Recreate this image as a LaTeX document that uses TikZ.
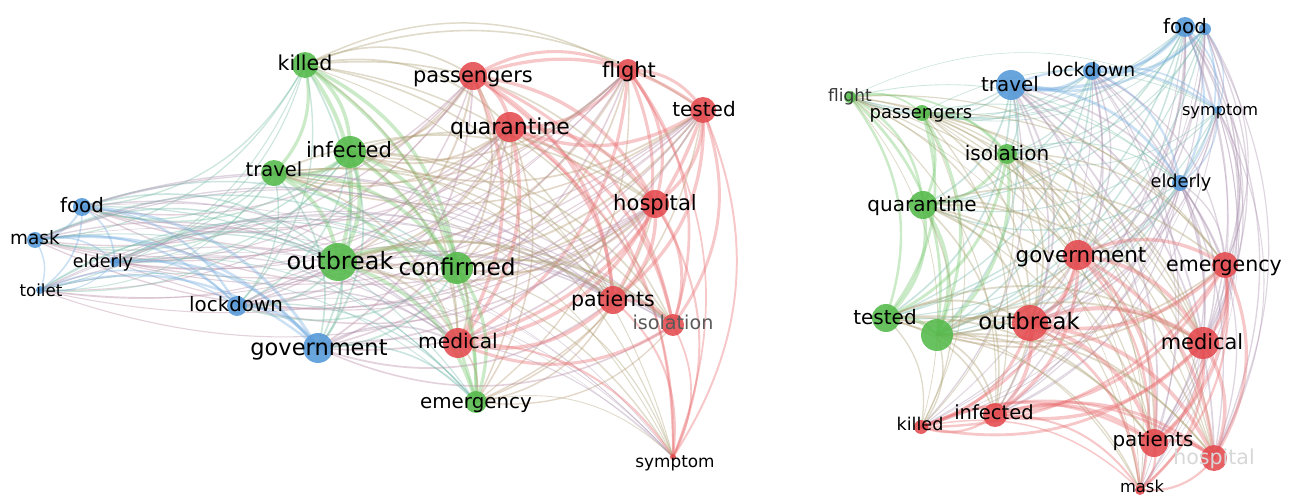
\documentclass[tikz,border=0pt]{standalone}
\usepackage{fontspec}
\setmainfont{DejaVu Sans}
\usetikzlibrary{backgrounds}
\definecolor{gnode}{RGB}{84,186,74}
\definecolor{rnode}{RGB}{228,74,78}
\definecolor{bnode}{RGB}{84,152,216}
\definecolor{greytext}{RGB}{90,90,90}
\definecolor{darktext}{RGB}{55,55,55}
\definecolor{faintext}{RGB}{215,215,215}
\tikzset{
	dot/.style={circle, inner sep=0pt, draw=none, fill=#1, fill opacity=0.88},
	word/.style={inner sep=0pt, anchor=base},
	link/.style={draw opacity=0.38, line cap=round},
}
% name/x/y/radius/colour
\def\leftnet{Lkilled/305/65/13/gnode, Lpassengers/473/76/14/rnode, Lflight/628/70/11/rnode,
	Ltested/703/110/13/rnode, Lquarantine/510/127/15/rnode, Linfected/350/152/16/gnode,
	Ltravel/274/173/13/gnode, Lhospital/655/204/14/rnode, Lfood/82/207/9/bnode,
	Lmask/35/240/8/bnode, Lelderly/115/262/5/bnode, Ltoilet/40/290/4/bnode,
	Loutbreak/338/262/19/gnode, Lconfirmed/457/268/16/gnode, Llockdown/237/306/10/bnode,
	Lpatients/613/300/14/rnode, Lisolation/673/325/11/rnode, Lgovernment/318/348/15/bnode,
	Lmedical/458/343/15/rnode, Lemergency/476/402/11/gnode, Lsymptom/673/457/3/rnode}
\def\rightnet{Rfood/1185/27/10/bnode, Rblue/1205/29/6/bnode, Rlockdown/1092/71/9/bnode,
	Rtravel/1011/85/15/bnode, Rflight/850/97/6/gnode, Rpassengers/922/113/8/gnode,
	Rsymptom/1218/110/4/bnode, Risolation/1007/154/10/gnode, Relderly/1180/183/8/bnode,
	Rquarantine/923/205/14/gnode, Rgovernment/1078/255/15/rnode, Remergency/1225/265/13/rnode,
	Rtested/886/318/14/gnode, Rgreen/937/335/16/gnode, Routbreak/1030/323/18/rnode,
	Rmedical/1203/343/16/rnode, Rinfected/995/415/12/rnode, Rkilled/921/427/7/rnode,
	Rpatients/1154/443/14/rnode, Rhospital/1214/458/13/rnode, Rmask/1140/490/5/rnode}
% node/text/size/x/y/colour
\def\leftwords{Lkilled/killed/11.7/305/64/black, Lpassengers/passengers/11.9/473/76/black,
	Lflight/flight/11.9/629/71/black, Ltested/tested/11.4/704/110/black,
	Lquarantine/quarantine/12.5/510/127/black, Linfected/infected/12/349/151/black,
	Ltravel/travel/11.1/274/170/black, Lhospital/hospital/12/655/204/black,
	Lfood/food/11.3/82/206/black, Lmask/mask/10.5/35/238/black,
	Lelderly/elderly/10/103/262/black, Ltoilet/toilet/9.5/41/291/black,
	Loutbreak/outbreak/13.6/340/262/black, Lconfirmed/confirmed/13.2/457/268/black,
	Llockdown/lockdown/11.3/236/305/black, Lpatients/patients/11.7/613/300/black,
	Lisolation/isolation/10.9/673/323/greytext, Lgovernment/government/12.8/319/348/black,
	Lmedical/medical/11.5/458/342/black, Lemergency/emergency/11.3/476/402/black,
	Lsymptom/symptom/9.6/675/462/black}
\def\rightwords{Rfood/food/11.3/1185/27/black, Rlockdown/lockdown/10.7/1091/70/black,
	Rtravel/travel/11.3/1010/85/black, Rflight/flight/9.7/850/96/darktext,
	Rpassengers/passengers/10.2/921/113/black, Rsymptom/symptom/9.2/1220/110/black,
	Risolation/isolation/11.4/1007/154/black, Relderly/elderly/10.1/1181/182/black,
	Rquarantine/quarantine/11.4/922/205/black, Rgovernment/government/12.2/1081/255/black,
	Remergency/emergency/11.7/1224/265/black, Rtested/tested/11.4/885/318/black,
	Routbreak/outbreak/12.9/1029/322/black, Rmedical/medical/11.9/1202/343/black,
	Rinfected/infected/11.1/994/413/black, Rkilled/killed/10/920/425/black,
	Rpatients/patients/11.3/1153/440/black, Rhospital/hospital/11.7/1214/458/faintext,
	Rmask/mask/9.3/1142/487/black}
\newcommand\placedots[1]{%
	\foreach \n/\x/\y/\r/\c in #1 {\node[dot=\c, minimum size={\r*0.04cm}] (\n) at (\x,\y) {};}}
\newcommand\placelinks[1]{%
	\foreach \a/\xa/\ya/\ra/\ca [count=\i] in #1 {
		\foreach \b/\xb/\yb/\rb/\cb [count=\j] in #1 {
			\ifnum\j>\i
				\ifx\ca\cb \def\lw{0.07}\else \def\lw{0.035}\fi
				\draw[link, draw=\ca!55!\cb!80!white, line width={(\ra+\rb)*\lw pt}] (\a.center) to[bend left=28] (\b.center);
			\fi}}}
\newcommand\placewords[1]{%
	\foreach \n/\t/\s/\lx/\ly/\tc in #1 {
		\node[word, text=\tc, font=\fontsize{\s}{\s}\selectfont, yshift={-0.33*\s pt}] (\n-lbl) at (\lx,\ly) {\t};}}

\begin{document}
\begin{tikzpicture}[x=0.02cm, y=-0.02cm]
	\useasboundingbox (0,0) rectangle (1295,497);
	\placedots{\leftnet}
	\placedots{\rightnet}
	\begin{scope}[on background layer]
		\placelinks{\leftnet}
		\placelinks{\rightnet}
	\end{scope}
	\placewords{\leftwords}
	\placewords{\rightwords}
\end{tikzpicture}
\end{document}
